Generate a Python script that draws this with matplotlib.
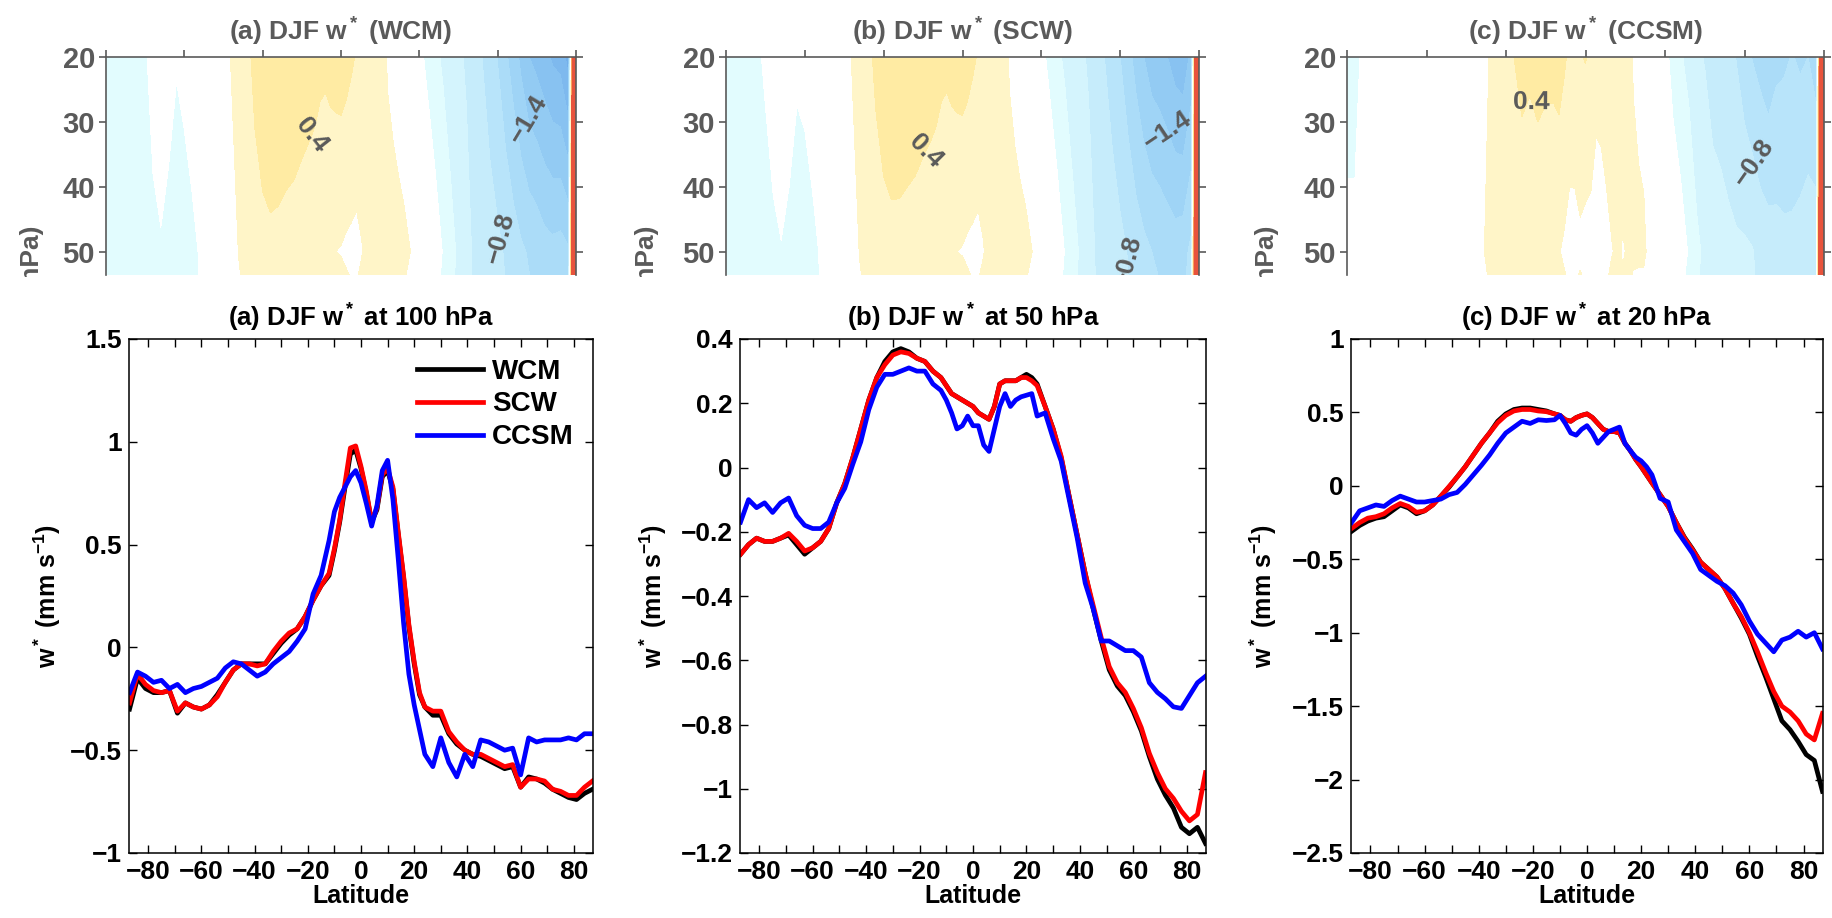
import matplotlib
matplotlib.use("Agg")
import matplotlib.pyplot as plt
import numpy as np
from matplotlib.ticker import FuncFormatter
from matplotlib.transforms import Bbox, TransformedBbox

plt.rcParams['font.family'] = ['Liberation Sans', 'DejaVu Sans']
plt.rcParams['font.weight'] = 'bold'
plt.rcParams['mathtext.fontset'] = 'custom'
plt.rcParams['mathtext.rm'] = 'Liberation Sans:bold'
plt.rcParams['mathtext.it'] = 'Liberation Sans:bold'
plt.rcParams['mathtext.bf'] = 'Liberation Sans:bold'

# latitude grid shared by all curves
lat = [-87, -84, -81, -78, -75, -72, -69, -66, -63, -60, -57, -54, -51, -48, -45,
       -42, -39, -36, -33, -30, -27, -24, -21, -18, -15, -12, -10, -8, -6, -4, -2,
       0, 2, 4, 6, 8, 10, 12, 14, 16, 18, 20, 22, 24, 27, 30, 33, 36, 39, 42, 45,
       48, 51, 54, 57, 60, 63, 66, 69, 72, 75, 78, 81, 84, 87]

# w* at 100 hPa (mm/s)
wcm_100 = [-0.30, -0.15, -0.20, -0.22, -0.22, -0.21, -0.32, -0.27, -0.29, -0.30, -0.28, -0.23, -0.17, -0.11, -0.08,
           -0.08, -0.08, -0.08, -0.03, 0.02, 0.06, 0.09, 0.15, 0.23, 0.30, 0.35, 0.47, 0.61, 0.78, 0.94, 0.96,
           0.87, 0.75, 0.61, 0.67, 0.83, 0.86, 0.77, 0.55, 0.34, 0.10, -0.08, -0.23, -0.29, -0.33, -0.33, -0.42, -0.47, -0.50, -0.52, -0.53,
           -0.55, -0.57, -0.59, -0.58, -0.68, -0.63, -0.64, -0.66, -0.69, -0.71, -0.73, -0.74, -0.71, -0.69]
scw_100 = [-0.27, -0.13, -0.18, -0.21, -0.22, -0.21, -0.31, -0.27, -0.29, -0.30, -0.28, -0.24, -0.17, -0.11, -0.08,
           -0.08, -0.09, -0.08, -0.02, 0.03, 0.07, 0.09, 0.15, 0.23, 0.30, 0.36, 0.48, 0.62, 0.80, 0.97, 0.98,
           0.88, 0.76, 0.61, 0.68, 0.84, 0.87, 0.78, 0.56, 0.35, 0.11, -0.07, -0.22, -0.29, -0.31, -0.31, -0.41, -0.46, -0.50, -0.52, -0.52,
           -0.54, -0.56, -0.58, -0.57, -0.68, -0.64, -0.64, -0.65, -0.69, -0.70, -0.72, -0.72, -0.68, -0.65]
ccsm_100 = [-0.22, -0.12, -0.14, -0.17, -0.16, -0.20, -0.18, -0.22, -0.20, -0.19, -0.17, -0.15, -0.10, -0.07, -0.08,
            -0.11, -0.14, -0.12, -0.08, -0.05, -0.02, 0.03, 0.09, 0.26, 0.35, 0.52, 0.66, 0.73, 0.78, 0.83, 0.86,
            0.80, 0.70, 0.59, 0.69, 0.86, 0.91, 0.72, 0.43, 0.12, -0.13, -0.28, -0.40, -0.52, -0.58, -0.44, -0.56, -0.63, -0.52, -0.58, -0.45,
            -0.46, -0.48, -0.50, -0.49, -0.62, -0.44, -0.46, -0.45, -0.45, -0.45, -0.44, -0.45, -0.42, -0.42]

# w* at 50 hPa
wcm_50 = [-0.27, -0.24, -0.22, -0.23, -0.23, -0.22, -0.21, -0.24, -0.27, -0.25, -0.23, -0.19, -0.11, -0.05, 0.03,
          0.12, 0.21, 0.28, 0.33, 0.36, 0.37, 0.36, 0.34, 0.33, 0.30, 0.28, 0.255, 0.23, 0.22, 0.21, 0.20,
          0.19, 0.17, 0.16, 0.15, 0.19, 0.26, 0.27, 0.27, 0.27, 0.28, 0.29, 0.28, 0.26, 0.19, 0.12, 0.03, -0.09, -0.21, -0.33, -0.44,
          -0.54, -0.63, -0.68, -0.71, -0.76, -0.82, -0.90, -0.97, -1.02, -1.06, -1.12, -1.14, -1.12, -1.17]
scw_50 = [-0.27, -0.24, -0.22, -0.23, -0.23, -0.22, -0.205, -0.23, -0.26, -0.25, -0.23, -0.19, -0.11, -0.05, 0.03,
          0.12, 0.21, 0.28, 0.32, 0.35, 0.36, 0.355, 0.34, 0.33, 0.30, 0.28, 0.255, 0.23, 0.22, 0.21, 0.20,
          0.19, 0.17, 0.16, 0.15, 0.19, 0.26, 0.27, 0.27, 0.27, 0.28, 0.28, 0.27, 0.255, 0.19, 0.12, 0.035, -0.09, -0.21, -0.33, -0.43,
          -0.53, -0.62, -0.67, -0.70, -0.75, -0.81, -0.89, -0.95, -1.00, -1.03, -1.07, -1.10, -1.08, -0.95]
ccsm_50 = [-0.17, -0.10, -0.125, -0.11, -0.14, -0.11, -0.095, -0.15, -0.18, -0.19, -0.19, -0.17, -0.11, -0.065, 0.01,
           0.08, 0.18, 0.25, 0.29, 0.29, 0.30, 0.31, 0.30, 0.30, 0.26, 0.24, 0.21, 0.17, 0.12, 0.13, 0.16,
           0.13, 0.13, 0.07, 0.05, 0.12, 0.19, 0.23, 0.19, 0.21, 0.22, 0.225, 0.23, 0.16, 0.17, 0.09, 0.02, -0.10, -0.22, -0.36, -0.44,
           -0.54, -0.54, -0.555, -0.57, -0.57, -0.59, -0.67, -0.70, -0.72, -0.745, -0.75, -0.71, -0.67, -0.65]

# w* at 20 hPa
wcm_20 = [-0.31, -0.27, -0.24, -0.22, -0.21, -0.17, -0.13, -0.15, -0.19, -0.17, -0.13, -0.07, -0.01, 0.06, 0.13,
          0.21, 0.29, 0.36, 0.44, 0.49, 0.52, 0.53, 0.53, 0.52, 0.51, 0.49, 0.48, 0.45, 0.44, 0.465, 0.48,
          0.49, 0.465, 0.425, 0.385, 0.37, 0.37, 0.36, 0.29, 0.24, 0.18, 0.13, 0.075, 0.02, -0.06, -0.14, -0.25, -0.35, -0.43, -0.52, -0.57,
          -0.62, -0.70, -0.80, -0.90, -1.01, -1.16, -1.30, -1.45, -1.60, -1.66, -1.74, -1.83, -1.87, -2.08]
scw_20 = [-0.29, -0.25, -0.22, -0.21, -0.19, -0.15, -0.12, -0.14, -0.18, -0.17, -0.13, -0.07, -0.005, 0.06, 0.13,
          0.21, 0.29, 0.36, 0.43, 0.48, 0.51, 0.52, 0.52, 0.51, 0.505, 0.49, 0.48, 0.45, 0.44, 0.465, 0.48,
          0.49, 0.465, 0.425, 0.385, 0.37, 0.37, 0.36, 0.29, 0.24, 0.18, 0.13, 0.075, 0.02, -0.06, -0.14, -0.25, -0.355, -0.435, -0.52, -0.57,
          -0.62, -0.70, -0.80, -0.89, -1.00, -1.13, -1.27, -1.40, -1.50, -1.54, -1.60, -1.69, -1.73, -1.55]
ccsm_20 = [-0.25, -0.17, -0.15, -0.13, -0.14, -0.10, -0.07, -0.09, -0.11, -0.11, -0.10, -0.09, -0.06, -0.045, 0.01,
           0.075, 0.14, 0.21, 0.29, 0.36, 0.40, 0.44, 0.425, 0.45, 0.445, 0.45, 0.48, 0.425, 0.36, 0.345, 0.385,
           0.41, 0.36, 0.29, 0.33, 0.37, 0.385, 0.40, 0.29, 0.24, 0.195, 0.17, 0.13, 0.075, -0.085, -0.11, -0.30, -0.38, -0.46, -0.57, -0.61,
           -0.65, -0.68, -0.73, -0.81, -0.92, -1.01, -1.07, -1.13, -1.05, -1.03, -0.99, -1.03, -1.00, -1.11]

# values at the poles used to close the contour sections (20, 50, 100 hPa)
plev = [20, 50, 100]
pole_south = {'WCM': [-0.31, -0.27, -0.30], 'SCW': [-0.29, -0.27, -0.27], 'CCSM': [-0.25, -0.17, -0.22]}
pole_north = [4.0, 4.0, 4.0]

models = ['WCM', 'SCW', 'CCSM']
line_colors = {'WCM': 'black', 'SCW': 'red', 'CCSM': 'blue'}
data = {
    100: {'WCM': wcm_100, 'SCW': scw_100, 'CCSM': ccsm_100},
    50: {'WCM': wcm_50, 'SCW': scw_50, 'CCSM': ccsm_50},
    20: {'WCM': wcm_20, 'SCW': scw_20, 'CCSM': ccsm_20},
}

# contour shading
cf_levels = [-2.4, -2.2, -2.0, -1.8, -1.6, -1.4, -1.2, -1.0, -0.8, -0.6, -0.4, -0.2,
             0.2, 0.4, 0.6, 0.8, 1.0, 5.0]
cf_colors = ['#6aa8e8', '#74b0eb', '#7eb9ee', '#88c2f1', '#93cbf3', '#9fd4f6', '#abdcf8',
             '#b8e4fa', '#c6ecfb', '#d4f4fd', '#e2fcfe', '#ffffff',
             '#fff5c8', '#ffeba3', '#ffdf88', '#f9a05a', '#e8533c']

W, H = 1832, 918
fig = plt.figure(figsize=(W / 100, H / 100), dpi=100)


def add_axes_px(x0, y0, x1, y1):
    return fig.add_axes([x0 / W, 1 - y1 / H, (x1 - x0) / W, (y1 - y0) / H])


def fmt(v, pos=None):
    if abs(v) < 1e-9:
        return '0'
    return f'{v:g}'.replace('-', '\u2212')


gray = '#5a5a5a'
top_boxes = [(106, 57, 576, 275), (726, 57, 1199, 275), (1347, 57, 1824, 275)]
top_titles = [r'(a) DJF w$^*$ (WCM)', r'(b) DJF w$^*$ (SCW)', r'(c) DJF w$^*$ (CCSM)']
label_spots = [[(-15, 29), (73, 29), (62, 47.5)],
               [(-18, 30), (79, 30.5), (62, 51.5)],
               [(-19, 26), (66, 35)]]
plabel_x = [32, 647, 1267]

for i, m in enumerate(models):
    ax = add_axes_px(*top_boxes[i])
    lat_ext = [-90] + lat + [90]
    field = np.array([[pole_south[m][k]] + data[p][m] + [pole_north[k]] for k, p in enumerate(plev)])
    ax.contourf(lat_ext, plev, field, levels=cf_levels, colors=cf_colors)
    cs = ax.contour(lat_ext, plev, field, levels=[-1.4, -0.8, 0.4], colors='none')
    ax.clabel(cs, fmt=fmt, manual=label_spots[i], inline=False, fontsize=19, colors=gray)
    ax.set_xlim(-90, 90)
    ax.set_ylim(53.6, 20)
    ax.set_xticks(np.arange(-90, 91, 30))
    ax.set_yticks([20, 30, 40, 50])
    ax.tick_params(axis='both', direction='out', length=5, width=1.2, color=gray,
                   labelcolor=gray, labelsize=21, top=True, bottom=False,
                   labelbottom=False, right=True, pad=3)
    for side in ['left', 'top', 'right']:
        ax.spines[side].set_color(gray)
        ax.spines[side].set_linewidth(1.2)
    ax.spines['bottom'].set_visible(False)
    ax.set_title(top_titles[i], color=gray, fontsize=19, fontweight='bold', pad=12)
    t = fig.text(plabel_x[i] / W, 1 - 225 / H, 'Pressure (hPa)', rotation=90,
                 ha='center', va='top', color=gray, fontsize=19, fontweight='bold')
    t.set_clip_box(TransformedBbox(Bbox([[0, 1 - 277 / H], [1, 1]]), fig.transFigure))
    t.set_clip_on(True)

bottom_boxes = [(129, 339, 593, 853), (740, 339, 1206, 853), (1351, 339, 1823, 853)]
bottom_titles = [r'(a) DJF w$^*$ at 100 hPa', r'(b) DJF w$^*$ at 50 hPa', r'(c) DJF w$^*$ at 20 hPa']
ylims = [(-1, 1.5), (-1.2, 0.4), (-2.5, 1)]
ysteps = [0.5, 0.2, 0.5]
ylabel_x = [-0.142, -0.152, -0.153]

for i, p in enumerate([100, 50, 20]):
    ax = add_axes_px(*bottom_boxes[i])
    for m in models:
        ax.plot(lat, data[p][m], color=line_colors[m], lw=3.4, label=m)
    ax.set_xlim(-87.2, 87.2)
    ax.set_ylim(*ylims[i])
    ax.set_xticks(np.arange(-80, 81, 10))
    ax.set_xticklabels([fmt(v) if v % 20 == 0 else '' for v in range(-80, 81, 10)])
    yt = np.round(np.arange(ylims[i][0], ylims[i][1] + 1e-6, ysteps[i]), 2) + 0.0
    ax.set_yticks(yt)
    ax.yaxis.set_major_formatter(FuncFormatter(fmt))
    ax.tick_params(axis='both', direction='in', length=6, width=1, labelsize=19,
                   top=True, right=True, pad=5)
    for s in ax.spines.values():
        s.set_linewidth(1.1)
    ax.set_xlabel('Latitude', fontsize=18, fontweight='bold', labelpad=0)
    ax.set_ylabel(r'w$^*$ (mm s$^{-1}$)', fontsize=18, fontweight='bold')
    ax.yaxis.set_label_coords(ylabel_x[i], 0.5)
    ax.set_title(bottom_titles[i], fontsize=18.5, fontweight='bold', pad=9)
    if i == 0:
        ax.legend(loc='upper left', bbox_to_anchor=(0.62, 0.962), frameon=False,
                  fontsize=20, handlelength=2.4, handletextpad=0.3, labelspacing=0.25,
                  borderpad=0, borderaxespad=0)

fig.savefig('out.png', dpi=100)
